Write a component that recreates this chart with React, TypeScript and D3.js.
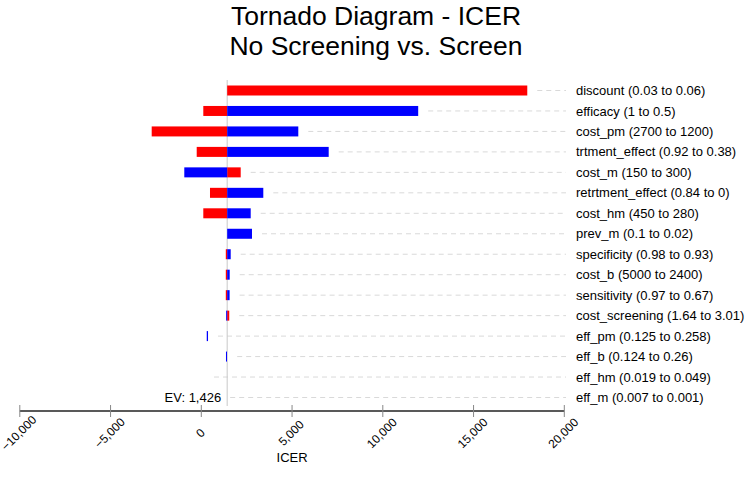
import React from "react";
import * as d3 from "d3";

const W = 752;
const H = 489;

const titleLines = ["Tornado Diagram - ICER", "No Screening vs. Screen"];
const axisTitle = "ICER";
const EV = 1426;
const evLabel = "EV: 1,426";

const params = [
  "discount (0.03 to 0.06)",
  "efficacy (1 to 0.5)",
  "cost_pm (2700 to 1200)",
  "trtment_effect (0.92 to 0.38)",
  "cost_m (150 to 300)",
  "retrtment_effect (0.84 to 0)",
  "cost_hm (450 to 280)",
  "prev_m (0.1 to 0.02)",
  "specificity (0.98 to 0.93)",
  "cost_b (5000 to 2400)",
  "sensitivity (0.97 to 0.67)",
  "cost_screening (1.64 to 3.01)",
  "eff_pm (0.125 to 0.258)",
  "eff_b (0.124 to 0.26)",
  "eff_hm (0.019 to 0.049)",
  "eff_m (0.007 to 0.001)",
];

// red segment (low input) and blue segment (high input), ICER values
const redFrom = [1426, 1426, 1426, 1426, 1426, 1426, 1426, 1426, 1426, 1426, 1426, 1426, 300, 1426, 150, 1040];
const redTo = [17960, 110, -2733, -253, 2171, 479, 110, 1426, 1350, 1350, 1350, 1540, 300, 1426, 150, 1040];
const blueFrom = [1426, 1426, 1426, 1426, 1426, 1426, 1426, 1426, 1426, 1426, 1426, 1426, 300, 1415, 150, 1040];
const blueTo = [1426, 11950, 5344, 7019, -937, 3416, 2722, 2793, 1620, 1565, 1560, 1370, 370, 1360, 150, 1040];

const tickValues = [-10000, -5000, 0, 5000, 10000, 15000, 20000];

const FONT = "'Liberation Sans', Arial, sans-serif";

export default function App() {
  const x = d3.scaleLinear().domain([-10000, 20000]).range([19.8, 564.3]);
  const y = d3.scalePoint<string>().domain(params).range([90.5, 397.5]);
  const fmt = d3.format(",");
  const barH = 10;
  const axisY = 411;
  const labelX = 576;
  const dashEnd = 566;

  return (
    <svg
      width={W}
      height={H}
      style={{ position: "absolute", left: 0, top: 0, background: "#fff" }}
      fontFamily={FONT}
    >
      <rect x={0} y={0} width={W} height={H} fill="#fff" />
      {titleLines.map((t, i) => (
        <text key={t} x={W / 2} y={25 + i * 30} textAnchor="middle" fontSize={26.5} fill="#000">
          {t}
        </text>
      ))}

      {/* dashed guide lines */}
      {params.map((p, i) => {
        const ext = Math.max(x(redFrom[i]), x(redTo[i]), x(blueFrom[i]), x(blueTo[i]));
        return (
          <line
            key={"g" + p}
            x1={ext + 10}
            x2={dashEnd}
            y1={y(p)!}
            y2={y(p)!}
            stroke="#d9d9d9"
            strokeWidth={1}
            strokeDasharray="5,4"
          />
        );
      })}

      {/* EV line */}
      <line x1={x(EV)} x2={x(EV)} y1={80} y2={axisY - 5} stroke="#c8c8c8" strokeWidth={1} />

      {/* bars */}
      {params.map((p, i) => {
        const cy = y(p)!;
        const rx0 = Math.min(x(redFrom[i]), x(redTo[i]));
        const rx1 = Math.max(x(redFrom[i]), x(redTo[i]));
        const bx0 = Math.min(x(blueFrom[i]), x(blueTo[i]));
        const bx1 = Math.max(x(blueFrom[i]), x(blueTo[i]));
        return (
          <g key={"b" + p}>
            {rx1 - rx0 > 0 && (
              <rect x={rx0} y={cy - barH / 2} width={rx1 - rx0} height={barH} fill="#ff0000" />
            )}
            {bx1 - bx0 > 0 && (
              <rect x={bx0} y={cy - barH / 2} width={bx1 - bx0} height={barH} fill="#0000ff" />
            )}
          </g>
        );
      })}

      {/* parameter labels */}
      {params.map((p) => (
        <text key={"l" + p} x={labelX} y={y(p)!} dy="0.35em" fontSize={13} fill="#000">
          {p}
        </text>
      ))}

      {/* EV label */}
      <text x={x(EV) - 6} y={y(params[params.length - 1])!} dy="0.35em" textAnchor="end" fontSize={13} fill="#000">
        {evLabel}
      </text>

      {/* axis */}
      <line x1={x(-10000)} x2={x(20000)} y1={axisY} y2={axisY} stroke="#222" strokeWidth={1.5} />
      {tickValues.map((t) => (
        <g key={"t" + t}>
          <line x1={x(t)} x2={x(t)} y1={axisY - 6} y2={axisY + 6} stroke="#888" strokeWidth={1} />
          <text
            transform={`translate(${x(t) - 1},${axisY + 22}) rotate(-45)`}
            textAnchor="middle"
            dy="0.35em"
            fontSize={12}
            fill="#000"
          >
            {fmt(t)}
          </text>
        </g>
      ))}
      <text x={(x(-10000) + x(20000)) / 2} y={axisY + 51} textAnchor="middle" fontSize={13} fill="#000">
        {axisTitle}
      </text>
    </svg>
  );
}
